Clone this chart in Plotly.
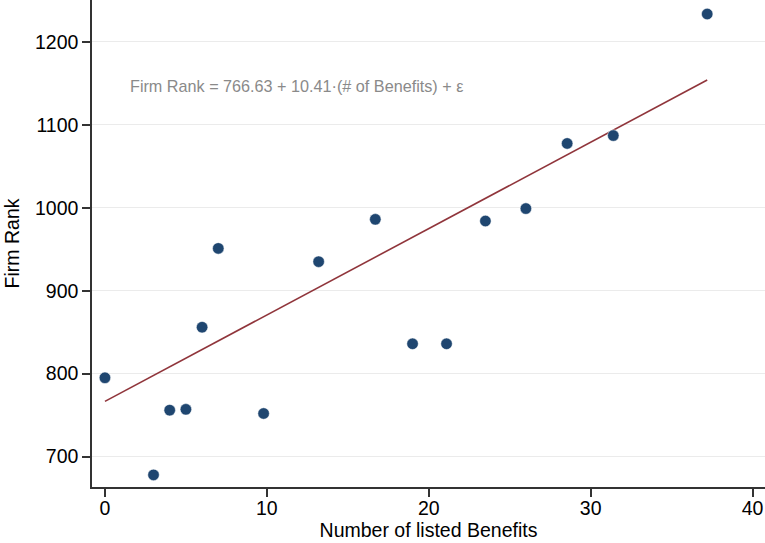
import plotly.graph_objects as go

benefits = [0, 3, 4, 5, 6, 7, 9.8, 13.2, 16.7, 19.0, 21.1, 23.5, 26.0, 28.55, 31.4, 37.2]
firm_rank = [795, 678, 756, 757, 856, 951, 752, 935, 986, 836, 836, 984, 999, 1077.5, 1087, 1233.5]
fit_intercept = 766.63
fit_slope = 10.41
x_ticks = [0, 10, 20, 30, 40]
y_ticks = [700, 800, 900, 1000, 1100, 1200]

FONT = "Liberation Sans, Arial, Helvetica, sans-serif"

fit_x = [min(benefits), max(benefits)]
fit_y = [fit_intercept + fit_slope * v for v in fit_x]

fig = go.Figure()
fig.add_trace(go.Scatter(x=fit_x, y=fit_y, mode="lines",
                         line=dict(color="#90353b", width=1.6),
                         showlegend=False, hoverinfo="skip"))
fig.add_trace(go.Scatter(x=benefits, y=firm_rank, mode="markers",
                         marker=dict(size=11.5, color="#1f4670",
                                     line=dict(color="white", width=0.5)),
                         showlegend=False))

fig.add_annotation(x=1.45, y=1147, xref="x", yref="y", xanchor="left", yanchor="middle",
                   text="Firm Rank = 766.63 + 10.41·(# of Benefits) + ε", showarrow=False,
                   font=dict(family=FONT, size=16.2, color="#8a8a8a"))

fig.update_layout(
    width=765, height=543,
    margin=dict(l=92, r=0, t=0, b=56),
    paper_bgcolor="white", plot_bgcolor="white",
    font=dict(family=FONT, size=19.5, color="black"),
)
fig.update_xaxes(range=[-0.8, 40.77], tickvals=x_ticks, showgrid=False, zeroline=False,
                 showline=True, linecolor="#333333", linewidth=1.5,
                 ticks="outside", ticklen=8, tickcolor="#333333", tickwidth=1.5,
                 ticklabelstandoff=-5,
                 title=dict(text="Number of listed Benefits", standoff=4,
                            font=dict(family=FONT, size=19.5)),
                 tickfont=dict(family=FONT, size=19.5))
fig.update_yaxes(range=[663.4, 1250.4], tickvals=y_ticks, showgrid=True, gridcolor="#ebebeb",
                 gridwidth=1.2, zeroline=False,
                 showline=True, linecolor="#333333", linewidth=1.5,
                 ticks="outside", ticklen=8, tickcolor="#333333", tickwidth=1.5,
                 title=dict(text="Firm Rank", standoff=10, font=dict(family=FONT, size=19.5)),
                 tickfont=dict(family=FONT, size=19.5))

fig.write_html("out.html")
